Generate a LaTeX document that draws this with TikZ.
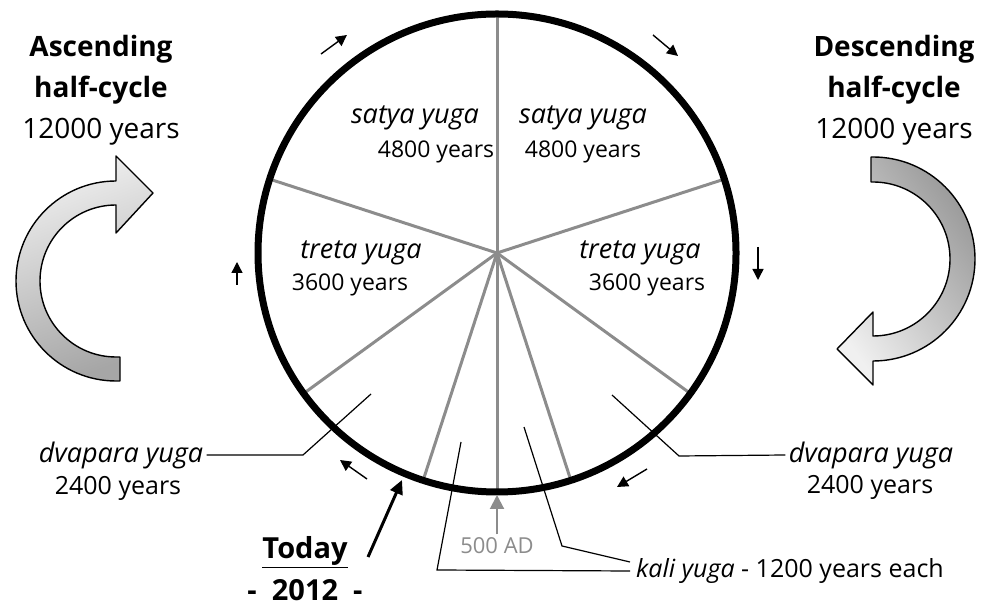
\documentclass[tikz,border=0pt]{standalone}
\usepackage{fontspec}
\setmainfont{Open Sans}
\usepackage{xcolor}
\usetikzlibrary{arrows.meta,positioning}

\definecolor{spokegray}{HTML}{8C8C8C}

\begin{document}
\begin{tikzpicture}[x=1pt, y=1pt,
  spoke/.style={spokegray, line width=3pt, shorten >=3pt},
  leader/.style={line width=1.2pt},
  tick/.style={-{Triangle[length=11pt,width=11pt]}, line width=1.4pt},
  bigarrow/.style={draw, line width=1.4pt, line join=round},
  yuga/.style={font=\fontsize{27}{30}\selectfont\itshape},
  yrs/.style={font=\fontsize{23}{26}\selectfont},
  outyrs/.style={font=\fontsize{25}{28}\selectfont},
  head/.style={font=\fontsize{28}{41}\selectfont, align=center},
]
\useasboundingbox (0,0) rectangle (981,607);

% the wheel of yugas
\node[circle, minimum size=478pt, inner sep=0pt, outer sep=0pt] (wheel) at (497,354) {};
\foreach \a in {90,18,-36,-72,-90,-108,-144,162}
  \draw[spoke] (wheel.center) -- (wheel.\a);
\draw[line width=7pt] (wheel.center) circle (239);

\node[yuga] (satyaL) at (415,489) {satya yuga};
\node[yrs] (satyaLy) at (436,455) {4800 years};
\node[yuga] (satyaR) at (583,489) {satya yuga};
\node[yrs] (satyaRy) at (583,455) {4800 years};
\node[yuga] (tretaL) at (361,354) {treta yuga};
\node[yrs] (tretaLy) at (350,322) {3600 years};
\node[yuga] (tretaR) at (640,354) {treta yuga};
\node[yrs] (tretaRy) at (647,322) {3600 years};

% outside labels and leaders
\node[yuga] (dvL) at (121,152) {dvapara yuga};
\node[outyrs] (dvLy) at (118,119) {2400 years};
\node[yuga] (dvR) at (871,152) {dvapara yuga};
\node[outyrs] (dvRy) at (870,120) {2400 years};
\node[outyrs, anchor=west, inner sep=6pt] (kali) at (630,36) {\textit{kali yuga} - 1200 years each};

\coordinate (dvLin) at (371,213);
\coordinate (dvRin) at (612,212);
\coordinate (kaliA) at (461,165);
\coordinate (kaliB) at (524,180);
\draw[leader] (dvLin) -- (303,152) -- (dvL.east);
\draw[leader] (dvRin) -- (679,151) -- (dvR.west);
\draw[leader] (kaliA) -- (437,37) -- (kali.west);
\draw[leader] (kaliB) -- (562,61) -- ([yshift=9pt]kali.west);

% 500 AD and today
\node[font=\fontsize{22}{24}\selectfont, text=spokegray] (ad) at (497,61) {500 AD};
\draw[-{Triangle[length=14pt,width=14pt]}, spokegray, line width=2pt] (ad) -- ([yshift=-3pt]wheel.south);

\node[font=\fontsize{29}{32}\selectfont\bfseries] (today) at (305,55) {\underline{Today}};
\node[font=\fontsize{29}{32}\selectfont\bfseries] (year) at (305,17) {-\ \ 2012\ \ -};
\coordinate (now) at (402,127);
\draw[-{Triangle[length=14pt,width=13pt]}, line width=3pt] (368,50) -- (now);

% direction ticks round the wheel
\foreach \s/\e in {{(321,553)}/{(347,572)}, {(653,572)}/{(678,551)},
                   {(237,322)}/{(237,345)}, {(758,360)}/{(758,327)},
                   {(367,128)}/{(340,147)}, {(647,138)}/{(617,120)}}
  \draw[tick] \s -- \e;

% half-cycles
\node[head] (asc) at (101,517) {\textbf{Ascending}\\\textbf{half-cycle}\\12000 years};
\node[head] (desc) at (894,517) {\textbf{Descending}\\\textbf{half-cycle}\\12000 years};

\path[bigarrow, top color=gray!12, bottom color=gray!70, shading angle=20]
  (116,402) -- (116,374) -- (153,414) -- (116,451) -- (116,426)
  arc[start angle=90, end angle=270, radius=100] -- (120,226) -- (120,250) -- (116,250)
  arc[start angle=270, end angle=90, radius=76] -- cycle;
\path[bigarrow, top color=gray!80, bottom color=gray!12, shading angle=-55]
  (871,450) -- (873,450)
  arc[start angle=90, end angle=-90, radius=102] -- (873,222) -- (837,258) -- (873,295) -- (873,271)
  arc[start angle=-90, end angle=90, radius=77] -- (871,425) -- cycle;

\end{tikzpicture}
\end{document}
